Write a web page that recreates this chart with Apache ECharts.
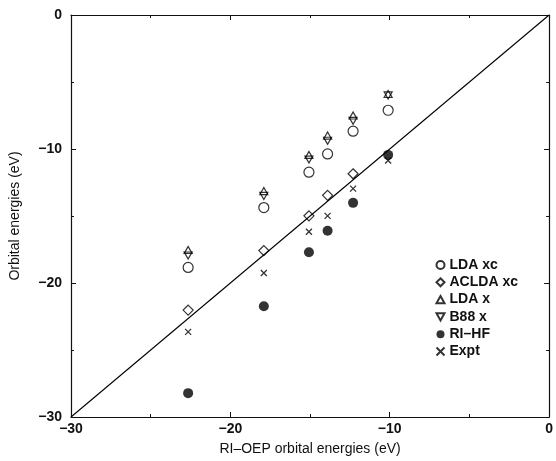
<!DOCTYPE html>
<html><head><meta charset="utf-8">
<script src="https://cdn.jsdelivr.net/npm/echarts@6/dist/echarts.min.js"></script>
<style>html,body{margin:0;padding:0;background:#fff}#c{width:556px;height:461px}</style>
</head><body><div id="c"></div>
<script>
// RI-OEP orbital energies (x) for each orbital column
const xOEP = [-22.65, -17.9, -15.07, -13.9, -12.3, -10.1];
const ldaXc   = [-18.84, -14.37, -11.73, -10.37, -8.67, -7.11];
const acldaXc = [-22.02, -17.58, -14.99, -13.46, -11.85];
const ldaX    = [-17.53, -13.14, -10.44, -9.0, -7.5, -5.9];
const b88X    = [-17.95, -13.5, -10.79, -9.38, -7.9, -6.0];
const riHF    = [-28.22, -21.73, -17.70, -16.1, -14.02, -10.44];
const expt    = [-23.65, -19.26, -16.17, -14.99, -12.96, -10.86];
const diagX = [-30, 0];
const diagY = [-30, 0];
const axisMin = -30, axisMax = 0, axisStep = 10;

function pts(ys){ return ys.map((y,i)=>[xOEP[i], y]); }
const minus = v => String(v).replace('-', '\u2212');
const FONT = '"Liberation Sans", Arial, Helvetica, sans-serif';

const chart = echarts.init(document.getElementById('c'), null, {renderer:'canvas'});
const axisCommon = {
  min: axisMin, max: axisMax, interval: axisStep,
  axisLine: {show:true, onZero:false, lineStyle:{color:'#111', width:1.2}},
  axisTick: {show:true, inside:true, length:5, lineStyle:{color:'#111', width:1}},
  minorTick: {show:true, splitNumber:2, length:3, lineStyle:{color:'#111', width:1}},
  splitLine: {show:false}
};
const hollow = {color:'transparent', borderColor:'#000', borderWidth:1.2};
chart.setOption({
  animation:false,
  backgroundColor:'#fff',
  grid:{left:68, right:3, top:15, bottom:41},
  xAxis:[
    Object.assign({type:'value', position:'bottom',
      name:'RI\u2013OEP orbital energies (eV)', nameLocation:'middle', nameGap:25,
      nameTextStyle:{fontFamily:FONT, fontSize:14, color:'#111'},
      axisLabel:{show:true, margin:5, fontFamily:FONT, fontSize:14, fontWeight:'bold', color:'#111', formatter:minus}
    }, axisCommon),
    Object.assign({type:'value', position:'top', axisLabel:{show:false}}, axisCommon)
  ],
  yAxis:[
    Object.assign({type:'value', position:'left',
      name:'Orbital energies (eV)', nameLocation:'middle', nameGap:49,
      nameTextStyle:{fontFamily:FONT, fontSize:14, color:'#111'},
      axisLabel:{show:true, margin:9, fontFamily:FONT, fontSize:14, fontWeight:'bold', color:'#111', formatter:minus}
    }, axisCommon),
    Object.assign({type:'value', position:'right', axisLabel:{show:false}}, axisCommon)
  ],
  legend:{
    orient:'vertical', left:429, top:253, itemWidth:8, itemHeight:8, itemGap:3.3,
    textStyle:{fontFamily:FONT, fontSize:14, fontWeight:'bold', color:'#111', lineHeight:14},
    data:['LDA xc','ACLDA xc','LDA x','B88 x','RI\u2013HF','Expt']
  },
  series:[
    {type:'line', data:diagX.map((x,i)=>[x, diagY[i]]), symbol:'none', silent:true,
     lineStyle:{color:'#000', width:1.1}, z:1},
    {name:'LDA xc', type:'scatter', symbol:'circle', symbolSize:10, data:pts(ldaXc), itemStyle:hollow},
    {name:'ACLDA xc', type:'scatter', symbol:'diamond', symbolSize:[10,10], data:pts(acldaXc), itemStyle:hollow},
    {name:'LDA x', type:'scatter', symbol:'path://M5,0L10,9L0,9Z', symbolSize:[8,7], data:pts(ldaX), itemStyle:hollow},
    {name:'B88 x', type:'scatter', symbol:'path://M0,0L10,0L5,9Z', symbolSize:[8,7], data:pts(b88X), itemStyle:hollow},
    {name:'RI\u2013HF', type:'scatter', symbol:'circle', symbolSize:10, data:pts(riHF), itemStyle:{color:'#000'}},
    {name:'Expt', type:'scatter', symbol:'path://M0,0L10,10M10,0L0,10', symbolSize:6, data:pts(expt),
     itemStyle:{color:'none', borderColor:'#000', borderWidth:1.3}}
  ]
});
</script></body></html>
